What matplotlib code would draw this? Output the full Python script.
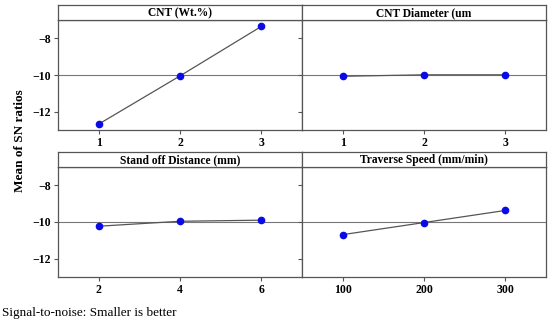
import numpy as np
from matplotlib import pyplot as plt

plt.rcParams['font.family'] = ['Liberation Serif', 'DejaVu Serif']

# main effects plot data (mean of SN ratios)
titles = ["CNT (Wt.%)", "CNT Diameter (um", "Stand off Distance (mm)", "Traverse Speed (mm/min)"]
levels = [["1", "2", "3"], ["1", "2", "3"], ["2", "4", "6"], ["100", "200", "300"]]
cnt_wt = [-12.68, -10.05, -7.35]
cnt_dia = [-10.07, -9.99, -9.99]
standoff = [-10.23, -9.96, -9.90]
speed = [-10.69, -10.03, -9.37]
means = [cnt_wt, cnt_dia, standoff, speed]
grand_mean = -10.0

fig = plt.figure(figsize=(5.5, 3.24), dpi=100)
W, H = 550.0, 324.0
edge = '#555555'

# panel geometry in pixels: (top of strip, strip bottom, axes bottom)
cols = [58, 302]
rows = [(5, 20, 130), (152, 167, 277)]
pw = 244

for k in range(4):
    r, c = divmod(k, 2)
    x0 = cols[c]
    top, sb, bot = rows[r]
    ax = fig.add_axes([x0 / W, 1 - bot / H, pw / W, (bot - sb) / H])
    st = fig.add_axes([x0 / W, 1 - sb / H, pw / W, (sb - top) / H])

    xs = np.arange(1, 4)
    ax.axhline(grand_mean, color='#777777', lw=0.8, zorder=1)
    ax.plot(xs, means[k], color='#555555', lw=0.9, zorder=2)
    ax.plot(xs, means[k], 'o', color='#0a0ae6', ms=4.5, zorder=3)
    ax.set_xlim(0.5, 3.5)
    ax.set_ylim(-13.0, -7.0)
    ax.set_xticks(xs)
    ax.set_xticklabels(levels[k], fontsize=8.5, fontweight='bold')
    ax.set_yticks([-12, -10, -8])
    if c == 0:
        ax.set_yticklabels(["\u221212", "\u221210", "\u22128"], fontsize=8.5, fontweight='bold')
    else:
        ax.set_yticklabels([])
        ax.tick_params(axis='y', length=0)
    ax.tick_params(direction='out', length=3, width=0.8, color=edge, pad=2)
    for s in ax.spines.values():
        s.set_color(edge)
        s.set_linewidth(0.9)

    st.set_xticks([])
    st.set_yticks([])
    for s in st.spines.values():
        s.set_color(edge)
        s.set_linewidth(0.9)
    st.text(0.5, 0.45, titles[k], ha='center', va='center', fontsize=8.3,
            fontweight='bold', transform=st.transAxes)

fig.text(20 / W, 1 - 141 / H, "Mean of SN ratios", rotation=90, ha='center', va='center',
         fontsize=9.5, fontweight='bold')
fig.text(2 / W, 1 - 313 / H, "Signal-to-noise: Smaller is better", ha='left', va='center',
         fontsize=9.5)

fig.savefig("out.png", dpi=100)
